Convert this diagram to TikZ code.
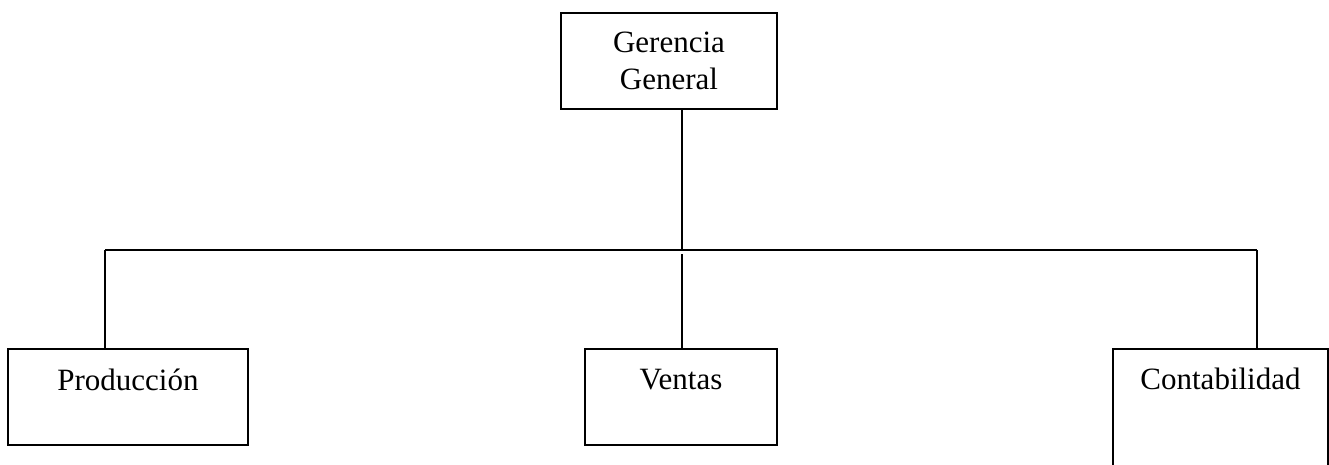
\documentclass[tikz,border=0pt]{standalone}
\usepackage{fontspec}
\setmainfont{Liberation Serif}
\tikzset{
  caja/.style = {draw = black, line width = 1.6pt, inner sep = 0pt,
    font = \fontsize{31}{37}\selectfont},
  linea/.style = {draw = black, line width = 1.6pt}
}

\begin{document}
\begin{tikzpicture}[x = 1pt, y = 1pt]   % 1 px = 1 pt
  % Bounding box
  \useasboundingbox (0, 0) rectangle (1329, 464);
  % arriba
  \node [caja, align = center, minimum width = 216pt, minimum height = 96pt]
    (gg) at (669, 403) {Gerencia\\General};
  % abajo
  \node [caja, anchor = base, minimum width = 240pt, text height = 41pt, text depth = 55pt]
    (prod) at (128, 74) {Producción};
  \node [caja, anchor = base, minimum width = 192pt, text height = 40pt, text depth = 56pt]
    (ventas) at (681, 75) {Ventas};
  \node [caja, anchor = base, minimum width = 215pt, text height = 40pt, text depth = 110pt]
    (conta) at (1220.5, 75) {Contabilidad};
  % puntos de la linea
  \coordinate (hub) at (682, 214);
  \coordinate (hubb) at (682, 210);
  \coordinate (izq) at (105, 214);
  \coordinate (der) at (1257, 214);
  % lineas
  \draw [linea] (gg.south -| hub) -- (hub);
  \draw [linea] (izq) -- (der);
  \draw [linea] (izq) -- (izq |- prod.north);
  \draw [linea] (hubb) -- (hubb |- ventas.north);
  \draw [linea] (der) -- (der |- conta.north);
\end{tikzpicture}
\end{document}
